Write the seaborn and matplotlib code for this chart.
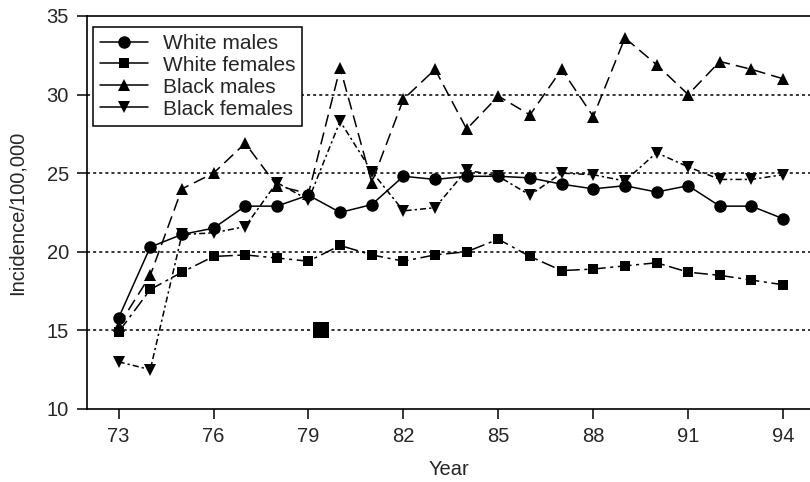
import numpy as np
import pandas as pd
import matplotlib
matplotlib.use("Agg")
import matplotlib.pyplot as plt
from matplotlib.lines import Line2D
import seaborn as sns

years = list(range(73, 95))
white_males = [15.8, 20.3, 21.1, 21.5, 22.9, 22.9, 23.6, 22.5, 23.0, 24.8, 24.6,
               24.8, 24.8, 24.7, 24.3, 24.0, 24.2, 23.8, 24.2, 22.9, 22.9, 22.1]
white_females = [14.9, 17.6, 18.7, 19.7, 19.8, 19.6, 19.4, 20.4, 19.8, 19.4, 19.8,
                 20.0, 20.8, 19.7, 18.8, 18.9, 19.1, 19.3, 18.7, 18.5, 18.2, 17.9]
black_males = [15.3, 18.5, 24.0, 25.0, 26.9, 24.2, 23.7, 31.7, 24.4, 29.7, 31.6,
               27.8, 29.9, 28.7, 31.6, 28.6, 33.6, 31.9, 30.0, 32.1, 31.6, 31.0]
black_females = [13.0, 12.5, 21.1, 21.2, 21.6, 24.4, 23.3, 28.3, 25.1, 22.6, 22.8,
                 25.2, 24.8, 23.6, 25.0, 24.9, 24.5, 26.3, 25.4, 24.6, 24.6, 24.9]
stray_x = [79.4]
stray_y = [15.0]

groups = ["White males", "White females", "Black males", "Black females"]
series = [white_males, white_females, black_males, black_females]
markers = {"White males": "o", "White females": "s", "Black males": "^", "Black females": "v"}
msizes = {"White males": 9, "White females": 7.5, "Black males": 9, "Black females": 9}
dashes = {"White males": "", "White females": (9, 3, 2, 3),
          "Black males": (8, 4), "Black females": (4, 2, 1.5, 2)}

df = pd.DataFrame({
    "Year": np.tile(years, len(groups)),
    "Incidence": np.concatenate(series),
    "Group": np.repeat(groups, len(years)),
})

sns.set_style("ticks")
plt.rcParams["font.family"] = ["Liberation Sans", "DejaVu Sans"]

fig = plt.figure(figsize=(8.1, 4.82), dpi=100)
ax = fig.add_axes([0.1074, 0.1515, 0.8926, 0.8155])

for g in groups:
    sub = df[df["Group"] == g]
    sns.lineplot(data=sub, x="Year", y="Incidence", ax=ax, color="black",
                 marker=markers[g], markersize=msizes[g], mec="black", mew=0,
                 linewidth=1.1, legend=False)
    ln = ax.get_lines()[-1]
    if dashes[g]:
        ln.set_dashes(dashes[g])

sns.scatterplot(x=stray_x, y=stray_y, ax=ax, marker="s", s=130, color="black",
                edgecolor="black", linewidth=0, legend=False)

for yv in [15, 20, 25, 30]:
    ax.axhline(yv, color="black", linestyle=(0, (2, 2)), linewidth=1.1, zorder=0)

ax.set_xlim(72, 94.85)
ax.set_ylim(10, 35)
ax.set_xticks([73, 76, 79, 82, 85, 88, 91, 94])
ax.set_yticks([10, 15, 20, 25, 30, 35])
ax.tick_params(axis="both", labelsize=14.5, length=7, width=1.1, color="black",
               direction="out", pad=6)
for s in ax.spines.values():
    s.set_color("black")
    s.set_linewidth(1.2)
ax.spines["right"].set_visible(False)
ax.set_xlabel("Year", fontsize=14.5, labelpad=10)
ax.set_ylabel("Incidence/100,000", fontsize=14.5, labelpad=14)

handles = [Line2D([0], [0], color="black", linewidth=1.1, marker=markers[g],
                  markersize=msizes[g], mew=0) for g in groups]
leg = ax.legend(handles, groups, loc="upper left", bbox_to_anchor=(0.008, 0.973),
                prop={"size": 15}, frameon=True, fancybox=False, edgecolor="black",
                framealpha=1, handlelength=2.3, handletextpad=0.7,
                labelspacing=0.14, borderpad=0.35, borderaxespad=0)
leg.get_frame().set_linewidth(1.1)

fig.savefig("out.png", dpi=100)
